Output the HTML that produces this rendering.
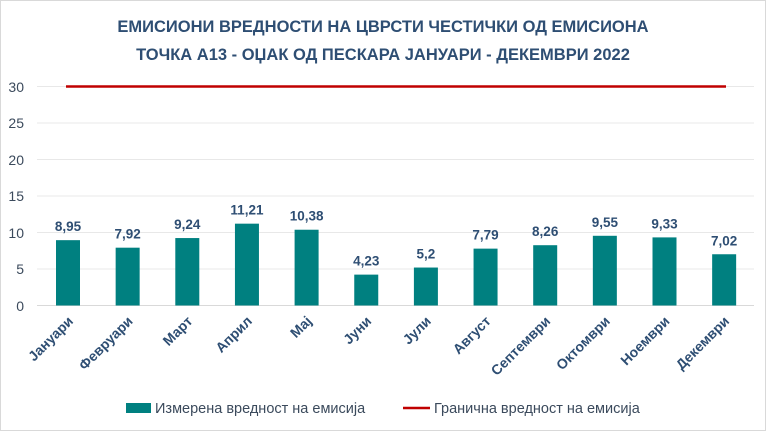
<!DOCTYPE html>
<html><head><meta charset="utf-8"><style>
body{margin:0;background:#fff;}
svg{display:block;font-family:"Liberation Sans","DejaVu Sans",sans-serif;}
</style></head><body>
<svg width="766" height="431" viewBox="0 0 766 431">
<rect x="0.5" y="0.5" width="765" height="430" fill="#fff" stroke="#d9d9d9"/>
<text x="383" y="32" text-anchor="middle" font-size="16.5" font-weight="bold" fill="#2e4e73">ЕМИСИОНИ ВРЕДНОСТИ НА ЦВРСТИ ЧЕСТИЧКИ ОД ЕМИСИОНА</text>
<text x="383" y="60" text-anchor="middle" font-size="16.5" font-weight="bold" fill="#2e4e73">ТОЧКА А13 - ОЏАК ОД ПЕСКАРА ЈАНУАРИ - ДЕКЕМВРИ 2022</text>
<g stroke="#e8e8e8" stroke-width="1">
<line x1="37" x2="754" y1="305.5" y2="305.5" stroke="#d9d9d9"/>
<line x1="37" x2="754" y1="269" y2="269"/>
<line x1="37" x2="754" y1="232.5" y2="232.5"/>
<line x1="37" x2="754" y1="196" y2="196"/>
<line x1="37" x2="754" y1="159.5" y2="159.5"/>
<line x1="37" x2="754" y1="123" y2="123"/>
<line x1="37" x2="754" y1="86.5" y2="86.5"/>
</g>
<g font-size="14" fill="#3b4a5c" text-anchor="end">
<text x="24" y="311">0</text><text x="24" y="274">5</text><text x="24" y="238">10</text>
<text x="24" y="201">15</text><text x="24" y="165">20</text><text x="24" y="128">25</text><text x="24" y="92">30</text>
</g>
<line x1="66" x2="726" y1="86.5" y2="86.5" stroke="#c00000" stroke-width="2.5"/>
<g fill="#008080" id="bars"></g>
<g id="lbl" font-size="13.5" font-weight="bold" fill="#2e4e73" text-anchor="middle"></g>
<g id="cat" font-size="14" font-weight="bold" fill="#2e4e73" text-anchor="end"></g>
<rect x="126" y="403" width="25" height="10" fill="#008080"/>
<text x="155" y="413" font-size="14.5" fill="#3b4a5c">Измерена вредност на емисија</text>
<line x1="403" x2="430" y1="408" y2="408" stroke="#c00000" stroke-width="2.5"/>
<text x="434" y="413" font-size="14.5" fill="#3b4a5c">Гранична вредност на емисија</text>
</svg>
<script>
var v=[8.95,7.92,9.24,11.21,10.38,4.23,5.2,7.79,8.26,9.55,9.33,7.02];
var s=["8,95","7,92","9,24","11,21","10,38","4,23","5,2","7,79","8,26","9,55","9,33","7,02"];
var c=["Јануари","Февруари","Март","Април","Мај","Јуни","Јули","Август","Септември","Октомври","Ноември","Декември"];
var ns="http://www.w3.org/2000/svg",b=document.getElementById("bars"),l=document.getElementById("lbl"),k=document.getElementById("cat");
for(var i=0;i<12;i++){var cx=68+i*59.65,h=v[i]*7.3,y=305.5-h;
var r=document.createElementNS(ns,"rect");r.setAttribute("x",cx-12);r.setAttribute("y",y);r.setAttribute("width",24);r.setAttribute("height",h);b.appendChild(r);
var t=document.createElementNS(ns,"text");t.setAttribute("x",cx);t.setAttribute("y",y-9);t.textContent=s[i];l.appendChild(t);
var q=document.createElementNS(ns,"text");q.setAttribute("transform","translate("+(cx+6)+",322) rotate(-45)");q.textContent=c[i];k.appendChild(q);}
</script>
</body></html>
